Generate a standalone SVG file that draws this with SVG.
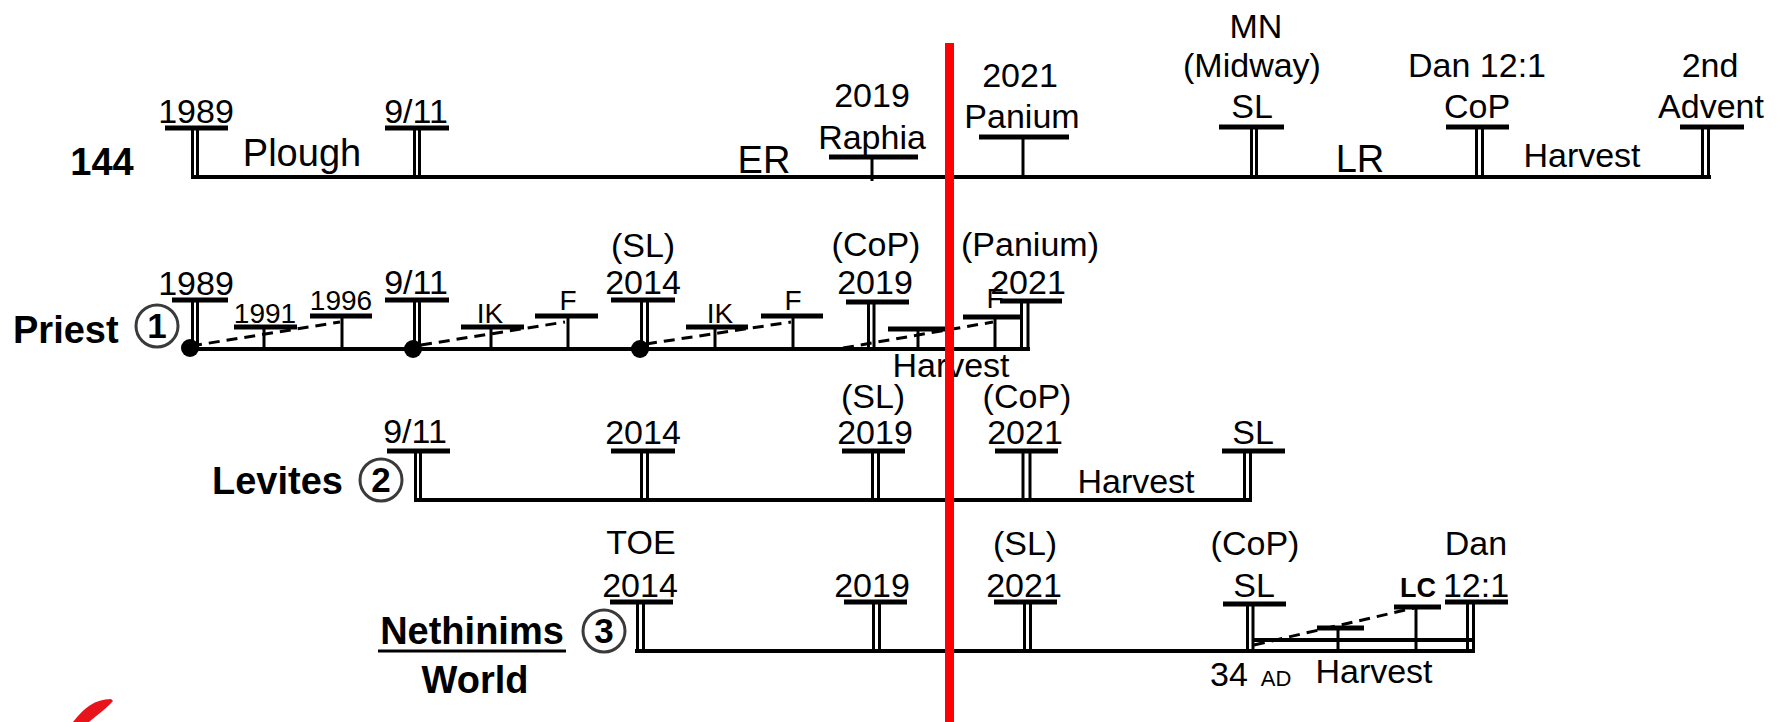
<svg xmlns="http://www.w3.org/2000/svg" width="1781" height="722" viewBox="0 0 1781 722">
<style>
text{font-family:"Liberation Sans",Arial,sans-serif;fill:#000}
.t{font-size:34px;text-anchor:middle}
.big{font-size:38px;text-anchor:middle}
.sm{font-size:28px;text-anchor:middle}
.b{font-size:38px;font-weight:bold}
.cn{font-size:35px;font-weight:bold;text-anchor:middle}
.ln{stroke:#000;stroke-width:4;fill:none}
.bar{stroke:#000;stroke-width:5}
.tk{stroke:#000;stroke-width:3}
.dash{stroke:#000;stroke-width:3;stroke-dasharray:11 7;fill:none}
.circ{fill:none;stroke:#3a3a3a;stroke-width:3}
</style>
<rect width="1781" height="722" fill="#fff"/>

<!-- connectors: timelines and dashed links -->
<g id="connectors">
<line class="ln" x1="191" y1="177" x2="1711" y2="177"/>
<line class="ln" x1="190" y1="349" x2="1030" y2="349"/>
<line class="ln" x1="414" y1="500" x2="1252" y2="500"/>
<line class="ln" x1="635" y1="651" x2="1474" y2="651"/>
<line class="ln" x1="1254" y1="640" x2="1472" y2="640"/>
<line class="dash" x1="191" y1="346" x2="340" y2="322"/>
<line class="dash" x1="421" y1="345" x2="565" y2="322"/>
<line class="dash" x1="646" y1="344" x2="791" y2="322"/>
<line class="dash" x1="843" y1="348" x2="993" y2="322"/>
<line class="dash" x1="1254" y1="645" x2="1414" y2="608"/>
</g>

<!-- Row 1: 144 -->
<g id="label-144"><text class="b" x="102" y="175" text-anchor="middle">144</text></g>
<g id="r1-1989">
<line class="bar" x1="165" y1="128" x2="228" y2="128"/>
<line class="tk" x1="192.5" y1="130" x2="192.5" y2="177"/><line class="tk" x1="197.5" y1="130" x2="197.5" y2="177"/>
<text class="t" x="196" y="123">1989</text>
</g>
<g id="r1-plough"><text class="big" x="302" y="166">Plough</text></g>
<g id="r1-911">
<line class="bar" x1="385" y1="128" x2="449" y2="128"/>
<line class="tk" x1="414.5" y1="130" x2="414.5" y2="177"/><line class="tk" x1="419.5" y1="130" x2="419.5" y2="177"/>
<text class="t" x="416" y="123">9/11</text>
</g>
<g id="r1-er"><text class="big" x="764" y="173">ER</text></g>
<g id="r1-raphia">
<line class="bar" x1="829" y1="157" x2="918" y2="157"/>
<line class="tk" x1="872" y1="157" x2="872" y2="181"/>
<text class="t" x="872" y="107">2019</text>
<text class="t" x="872" y="149">Raphia</text>
</g>
<g id="r1-panium">
<line class="bar" x1="979" y1="137" x2="1069" y2="137"/>
<line class="tk" x1="1023" y1="137" x2="1023" y2="177"/>
<text class="t" x="1020" y="87">2021</text>
<text class="t" x="1022" y="128">Panium</text>
</g>
<g id="r1-mn">
<line class="bar" x1="1219" y1="127" x2="1284" y2="127"/>
<line class="tk" x1="1251.5" y1="129" x2="1251.5" y2="177"/><line class="tk" x1="1256.5" y1="129" x2="1256.5" y2="177"/>
<text class="t" x="1256" y="38">MN</text>
<text class="t" x="1252" y="77">(Midway)</text>
<text class="t" x="1252" y="118">SL</text>
</g>
<g id="r1-lr"><text class="big" x="1360" y="172">LR</text></g>
<g id="r1-dan">
<line class="bar" x1="1446" y1="127" x2="1509" y2="127"/>
<line class="tk" x1="1476.5" y1="129" x2="1476.5" y2="177"/><line class="tk" x1="1482.5" y1="129" x2="1482.5" y2="177"/>
<text class="t" x="1477" y="77">Dan 12:1</text>
<text class="t" x="1477" y="118">CoP</text>
</g>
<g id="r1-harvest"><text class="t" x="1582" y="167">Harvest</text></g>
<g id="r1-advent">
<line class="bar" x1="1680" y1="127" x2="1744" y2="127"/>
<line class="tk" x1="1702.5" y1="129" x2="1702.5" y2="179"/><line class="tk" x1="1708.5" y1="129" x2="1708.5" y2="179"/>
<text class="t" x="1710" y="77">2nd</text>
<text class="t" x="1711" y="118">Advent</text>
</g>

<!-- Row 2: Priest -->
<g id="label-priest">
<text class="b" x="13" y="343">Priest</text>
<circle class="circ" cx="157" cy="326" r="21"/>
<text class="cn" x="157" y="338">1</text>
</g>
<g id="r2-1989">
<line class="bar" x1="172" y1="300" x2="228" y2="300"/>
<line class="tk" x1="192.5" y1="302" x2="192.5" y2="349"/><line class="tk" x1="197.5" y1="302" x2="197.5" y2="349"/>
<text class="t" x="196" y="295">1989</text>
<circle cx="190" cy="348" r="9" fill="#000"/>
</g>
<g id="r2-1991">
<line class="bar" x1="234" y1="327" x2="297" y2="327"/>
<line class="tk" x1="264" y1="327" x2="264" y2="349"/>
<text class="sm" x="265" y="323">1991</text>
</g>
<g id="r2-1996">
<line class="bar" x1="310" y1="316" x2="372" y2="316"/>
<line class="tk" x1="342" y1="316" x2="342" y2="349"/>
<text class="sm" x="341" y="310">1996</text>
</g>
<g id="r2-911">
<line class="bar" x1="385" y1="300" x2="449" y2="300"/>
<line class="tk" x1="414.5" y1="302" x2="414.5" y2="349"/><line class="tk" x1="419.5" y1="302" x2="419.5" y2="349"/>
<text class="t" x="416" y="294">9/11</text>
<circle cx="413" cy="349" r="9" fill="#000"/>
</g>
<g id="r2-ik1">
<line class="bar" x1="461" y1="327" x2="524" y2="327"/>
<line class="tk" x1="491" y1="327" x2="491" y2="349"/>
<text class="sm" x="490" y="323">IK</text>
</g>
<g id="r2-f1">
<line class="bar" x1="535" y1="316" x2="598" y2="316"/>
<line class="tk" x1="568" y1="316" x2="568" y2="349"/>
<text class="sm" x="568" y="310">F</text>
</g>
<g id="r2-2014">
<line class="bar" x1="611" y1="300" x2="675" y2="300"/>
<line class="tk" x1="641.5" y1="302" x2="641.5" y2="349"/><line class="tk" x1="647.5" y1="302" x2="647.5" y2="349"/>
<text class="t" x="643" y="257">(SL)</text>
<text class="t" x="643" y="294">2014</text>
<circle cx="640" cy="349" r="9" fill="#000"/>
</g>
<g id="r2-ik2">
<line class="bar" x1="686" y1="327" x2="748" y2="327"/>
<line class="tk" x1="715" y1="327" x2="715" y2="349"/>
<text class="sm" x="720" y="323">IK</text>
</g>
<g id="r2-f2">
<line class="bar" x1="761" y1="316" x2="823" y2="316"/>
<line class="tk" x1="793" y1="316" x2="793" y2="349"/>
<text class="sm" x="793" y="310">F</text>
</g>
<g id="r2-2019">
<line class="bar" x1="846" y1="302" x2="909" y2="302"/>
<line class="tk" x1="868.5" y1="304" x2="868.5" y2="349"/><line class="tk" x1="874" y1="304" x2="874" y2="349"/>
<text class="t" x="876" y="256">(CoP)</text>
<text class="t" x="875" y="294">2019</text>
</g>
<g id="r2-harvest">
<line class="bar" x1="888" y1="329" x2="950" y2="329"/>
<line class="tk" x1="918" y1="329" x2="918" y2="349"/>
<text class="t" x="951" y="377">Harvest</text>
</g>
<g id="r2-f3">
<line class="bar" x1="963" y1="317" x2="1023" y2="317"/>
<line class="tk" x1="995" y1="317" x2="995" y2="349"/>
<text class="sm" x="995" y="308">F</text>
</g>
<g id="r2-2021">
<line class="bar" x1="1000" y1="301" x2="1062" y2="301"/>
<line class="tk" x1="1021.5" y1="303" x2="1021.5" y2="351"/><line class="tk" x1="1028" y1="303" x2="1028" y2="351"/>
<text class="t" x="1030" y="256">(Panium)</text>
<text class="t" x="1028" y="294">2021</text>
</g>

<!-- Row 3: Levites -->
<g id="label-levites">
<text class="b" x="212" y="494">Levites</text>
<circle class="circ" cx="381" cy="480" r="21"/>
<text class="cn" x="381" y="492">2</text>
</g>
<g id="r3-911">
<line class="bar" x1="387" y1="451" x2="450" y2="451"/>
<line class="tk" x1="415.5" y1="453" x2="415.5" y2="502"/><line class="tk" x1="420.5" y1="453" x2="420.5" y2="502"/>
<text class="t" x="415" y="443">9/11</text>
</g>
<g id="r3-2014">
<line class="bar" x1="611" y1="451" x2="675" y2="451"/>
<line class="tk" x1="641.5" y1="453" x2="641.5" y2="500"/><line class="tk" x1="647.5" y1="453" x2="647.5" y2="500"/>
<text class="t" x="643" y="444">2014</text>
</g>
<g id="r3-2019">
<line class="bar" x1="842" y1="451" x2="905" y2="451"/>
<line class="tk" x1="872.5" y1="453" x2="872.5" y2="500"/><line class="tk" x1="878.5" y1="453" x2="878.5" y2="500"/>
<text class="t" x="873" y="408">(SL)</text>
<text class="t" x="875" y="444">2019</text>
</g>
<g id="r3-2021">
<line class="bar" x1="995" y1="451" x2="1058" y2="451"/>
<line class="tk" x1="1023" y1="453" x2="1023" y2="500"/><line class="tk" x1="1030" y1="453" x2="1030" y2="500"/>
<text class="t" x="1027" y="408">(CoP)</text>
<text class="t" x="1025" y="444">2021</text>
</g>
<g id="r3-harvest"><text class="t" x="1136" y="493">Harvest</text></g>
<g id="r3-sl">
<line class="bar" x1="1222" y1="451" x2="1285" y2="451"/>
<line class="tk" x1="1244.5" y1="453" x2="1244.5" y2="502"/><line class="tk" x1="1250.5" y1="453" x2="1250.5" y2="502"/>
<text class="t" x="1253" y="444">SL</text>
</g>

<!-- Row 4: Nethinims / World -->
<g id="label-nethinims">
<text class="b" x="472" y="644" text-anchor="middle">Nethinims</text>
<line x1="378" y1="651" x2="566" y2="651" stroke="#000" stroke-width="3"/>
<text class="b" x="475" y="693" text-anchor="middle">World</text>
<circle class="circ" cx="604" cy="631" r="21"/>
<text class="cn" x="604" y="643">3</text>
</g>
<g id="r4-2014">
<line class="bar" x1="610" y1="602" x2="673" y2="602"/>
<line class="tk" x1="637.5" y1="604" x2="637.5" y2="653"/><line class="tk" x1="643.5" y1="604" x2="643.5" y2="651"/>
<text class="t" x="641" y="554">TOE</text>
<text class="t" x="640" y="597">2014</text>
</g>
<g id="r4-2019">
<line class="bar" x1="844" y1="602" x2="907" y2="602"/>
<line class="tk" x1="873.5" y1="604" x2="873.5" y2="651"/><line class="tk" x1="879.5" y1="604" x2="879.5" y2="651"/>
<text class="t" x="872" y="597">2019</text>
</g>
<g id="r4-2021">
<line class="bar" x1="994" y1="602" x2="1057" y2="602"/>
<line class="tk" x1="1024.5" y1="604" x2="1024.5" y2="651"/><line class="tk" x1="1030.5" y1="604" x2="1030.5" y2="651"/>
<text class="t" x="1025" y="555">(SL)</text>
<text class="t" x="1024" y="597">2021</text>
</g>
<g id="r4-sl">
<line class="bar" x1="1223" y1="604" x2="1286" y2="604"/>
<line class="tk" x1="1247.5" y1="606" x2="1247.5" y2="653"/><line class="tk" x1="1253" y1="606" x2="1253" y2="653"/>
<text class="t" x="1255" y="555">(CoP)</text>
<text class="t" x="1254" y="597">SL</text>
<text class="t" x="1229" y="686">34</text>
<text x="1276" y="686" style="font-size:22px;text-anchor:middle">AD</text>
</g>
<g id="r4-harvest">
<line class="bar" x1="1317" y1="628" x2="1364" y2="628"/>
<line class="tk" x1="1338" y1="628" x2="1338" y2="651"/>
<text class="t" x="1374" y="683">Harvest</text>
</g>
<g id="r4-lc">
<line class="bar" x1="1394" y1="607" x2="1441" y2="607"/>
<line class="tk" x1="1416" y1="607" x2="1416" y2="651"/>
<text x="1418" y="597" style="font-size:27px;font-weight:bold;text-anchor:middle">LC</text>
</g>
<g id="r4-dan">
<line class="bar" x1="1445" y1="602" x2="1508" y2="602"/>
<line class="tk" x1="1467.5" y1="604" x2="1467.5" y2="653"/><line class="tk" x1="1473.5" y1="604" x2="1473.5" y2="653"/>
<text class="t" x="1476" y="555">Dan</text>
<text class="t" x="1476" y="597">12:1</text>
</g>

<!-- red divider and logo fragment -->
<rect id="red-divider" x="945" y="43" width="9" height="679" fill="#ff0000"/>
<path id="red-swoosh" d="M73,722 C84,708 95,699 111,699 L113,701 C106,709 96,716 89,722 Z" fill="#e8141c"/>
</svg>
